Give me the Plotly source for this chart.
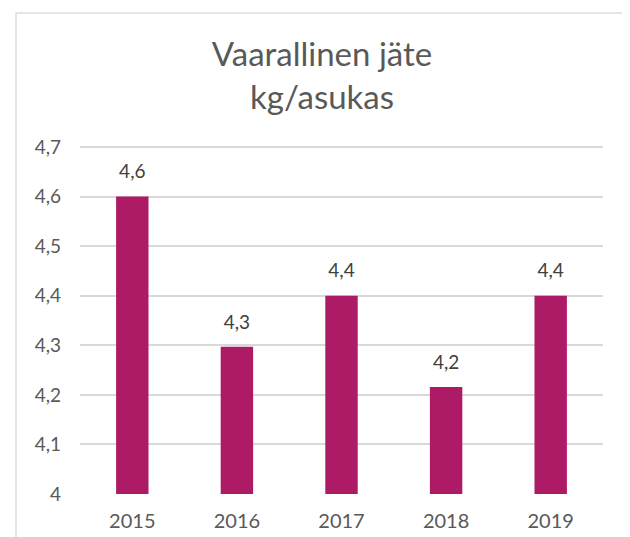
import plotly.graph_objects as go

years = ["2015", "2016", "2017", "2018", "2019"]
values = [4.6, 4.297, 4.4, 4.216, 4.4]
title_lines = ["Vaarallinen jäte", "kg/asukas"]

# page has an 8px body margin; figure sized so it fits in the window
OFF = 8
W, H = 630 - OFF, 537 - OFF
L, R, T, B = 72, 27, 136, 43
pw = W - L - R
ph = H - T - B

font_family = "Lato, 'Open Sans', sans-serif"

fig = go.Figure()
fig.add_trace(
    go.Bar(
        x=years,
        y=values,
        marker=dict(color="#AD1A65", line=dict(width=0)),
        hoverinfo="skip",
    )
)
fig.add_trace(
    go.Scatter(
        x=years,
        y=values,
        mode="markers+text",
        text=[f"{v:.1f}".replace(".", ",") for v in values],
        textposition="top center",
        marker=dict(size=20, opacity=0),
        textfont=dict(size=19, color="#404040", family=font_family),
        cliponaxis=False,
        hoverinfo="skip",
    )
)

# outer chart border (chart area frame)
fig.add_shape(
    type="rect", xref="paper", yref="paper",
    x0=(16 - OFF - L) / pw, x1=(628 - OFF - L) / pw,
    y0=-(B + 20) / ph, y1=(H - B - (13 - OFF)) / ph,
    line=dict(color="#DDDDDD", width=1.5), fillcolor="rgba(0,0,0,0)", layer="below",
)

fig.update_layout(
    width=W, height=H,
    margin=dict(l=L, r=R, t=T, b=B, autoexpand=False),
    paper_bgcolor="white", plot_bgcolor="white",
    separators=",.",
    bargap=0.69,
    showlegend=False,
    title=dict(
        text="<br>".join(title_lines),
        x=(322 - OFF) / W, xanchor="center",
        y=1 - (66 - OFF) / H, yanchor="middle", yref="container",
        font=dict(size=33, color="#595959", family=font_family),
    ),
    font=dict(family=font_family, color="#595959"),
    xaxis=dict(
        showgrid=False, showline=False, ticks="", automargin=False,
        tickfont=dict(size=20, color="#595959"),
        ticklabelstandoff=13,
    ),
    yaxis=dict(
        range=[4, 4.706], tickvals=[4, 4.1, 4.2, 4.3, 4.4, 4.5, 4.6, 4.7],
        automargin=False,
        showgrid=True, gridcolor="#D9D9D9", gridwidth=1.5,
        zeroline=False, showline=False, ticks="",
        tickfont=dict(size=19, color="#595959"),
        ticklabelstandoff=18,
    ),
)

fig.write_html("out.html")
